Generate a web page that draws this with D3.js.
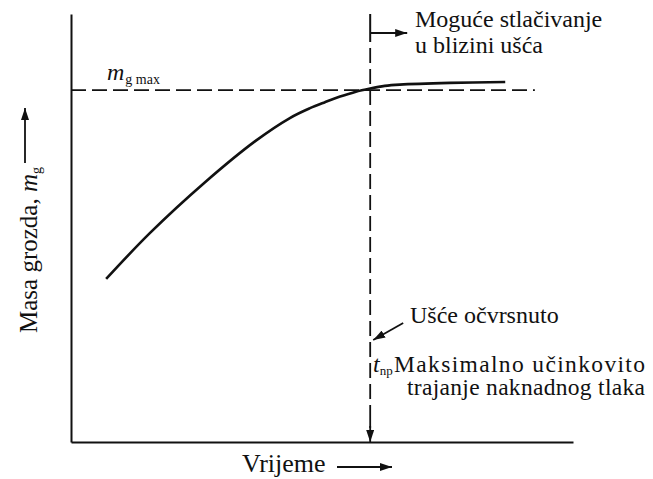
<!DOCTYPE html>
<html><head><meta charset="utf-8">
<script src="https://cdn.jsdelivr.net/npm/d3@7"></script>
<style>
html,body{margin:0;padding:0;background:#fff;}
</style></head>
<body>
<svg id="c" width="653" height="479"></svg>
<script>
// Data (arbitrary units: time 0..100, mass 0..100)
const timeVals = [7.0, 15.7, 26.7, 36.7, 43.6, 47.6, 50.6, 53.6, 56.6, 59.6, 62.5, 65.5, 75.5, 86.5];
const massVals = [38.1, 48.8, 60.7, 70.3, 75.7, 78.0, 79.4, 80.7, 81.8, 82.6, 83.2, 83.5, 83.9, 84.1];
const mgMax = 82.2;
const mgMaxEnd = 92.4;
const tNp = 59.6;
const labels = {
  y: "Masa grozda, ",
  x: "Vrijeme",
  top1: "Moguće stlačivanje",
  top2: "u blizini ušća",
  mid: "Ušće očvrsnuto",
  low1: "Maksimalno učinkovito",
  low2: "trajanje naknadnog tlaka"
};
const FONT = "'Liberation Serif', 'Times New Roman', Times, 'DejaVu Serif', serif";

const svg = d3.select("#c");
const x = d3.scaleLinear().domain([0,100]).range([71,573]);
const y = d3.scaleLinear().domain([0,100]).range([442,14]);

const defs = svg.append("defs");
defs.append("marker").attr("id","ah").attr("viewBox","0 0 12 8")
  .attr("refX",12).attr("refY",4).attr("markerWidth",12).attr("markerHeight",8)
  .attr("markerUnits","userSpaceOnUse").attr("orient","auto")
  .append("path").attr("d","M0,0 L12,4 L0,8 Z").attr("fill","#111");

// axes (domain lines only)
svg.append("g").attr("transform","translate(71,0)")
  .call(d3.axisLeft(y).tickValues([]).tickSizeOuter(0))
  .select(".domain").attr("stroke","#111").attr("stroke-width",2);
svg.append("g").attr("transform","translate(0,442)")
  .call(d3.axisBottom(x).tickValues([]).tickSizeOuter(0))
  .select(".domain").attr("stroke","#111").attr("stroke-width",2);

// horizontal dashed m_g max
svg.append("line").attr("x1",x(0)).attr("x2",x(mgMaxEnd))
  .attr("y1",y(mgMax)).attr("y2",y(mgMax))
  .attr("stroke","#111").attr("stroke-width",1.8).attr("stroke-dasharray","15,6");

// vertical line at t_np
svg.append("line").attr("x1",x(tNp)).attr("x2",x(tNp)).attr("y1",y(100)).attr("y2",y(100)+28)
  .attr("stroke","#111").attr("stroke-width",2);
svg.append("line").attr("x1",x(tNp)).attr("x2",x(tNp)).attr("y1",y(100)+34).attr("y2",y(0)-14)
  .attr("stroke","#111").attr("stroke-width",1.8).attr("stroke-dasharray","15,6");
svg.append("line").attr("x1",x(tNp)).attr("x2",x(tNp)).attr("y1",y(0)-22).attr("y2",y(0))
  .attr("stroke","#111").attr("stroke-width",1.8).attr("marker-end","url(#ah)");

// top arrow
svg.append("line").attr("x1",x(tNp)).attr("x2",x(tNp)+37).attr("y1",33).attr("y2",33)
  .attr("stroke","#111").attr("stroke-width",1.8).attr("marker-end","url(#ah)");
// Ušće arrow
svg.append("line").attr("x1",x(tNp)+33).attr("y1",323).attr("x2",x(tNp)+3).attr("y2",340)
  .attr("stroke","#111").attr("stroke-width",1.8).attr("marker-end","url(#ah)");

// curve
const pts = timeVals.map((t,i)=>[t,massVals[i]]);
svg.append("path").datum(pts)
  .attr("d", d3.line().x(d=>x(d[0])).y(d=>y(d[1])).curve(d3.curveCatmullRom.alpha(0.5)))
  .attr("fill","none").attr("stroke","#111").attr("stroke-width",2.6);

// texts
function txt(s,xx,yy,size){
  return svg.append("text").attr("x",xx).attr("y",yy).attr("font-size",size||24)
    .attr("font-family",FONT).attr("fill","#111").text(s);
}
txt(labels.top1,415,27);
txt(labels.top2,415,53);
txt(labels.mid,410,323);
txt(labels.low1,394,372,23.5).attr("textLength",251).attr("lengthAdjust","spacing");
txt(labels.low2,407,395,23.5).attr("textLength",238).attr("lengthAdjust","spacing");
txt(labels.x,242,472,26);

// t_np
const tn = svg.append("text").attr("x",373).attr("y",372).attr("font-size",24)
  .attr("font-family",FONT).attr("fill","#111");
tn.append("tspan").attr("font-style","italic").text("t");
tn.append("tspan").attr("font-size",13).attr("dy",3).text("np");

// m_g max
const mm = svg.append("text").attr("x",107).attr("y",80).attr("font-size",24)
  .attr("font-family",FONT).attr("fill","#111");
mm.append("tspan").attr("font-style","italic").text("m");
mm.append("tspan").attr("font-size",14).attr("dy",4).attr("dx",1).text("g max");

// x arrow
svg.append("line").attr("x1",337).attr("x2",392).attr("y1",467).attr("y2",467)
  .attr("stroke","#111").attr("stroke-width",1.8).attr("marker-end","url(#ah)");

// y label
const yl = svg.append("text").attr("transform","translate(37,333) rotate(-90)").attr("font-size",25)
  .attr("font-family",FONT).attr("fill","#111");
yl.append("tspan").text(labels.y);
yl.append("tspan").attr("font-style","italic").text("m");
yl.append("tspan").attr("font-size",14).attr("dy",4).text("g");
// y arrow
svg.append("line").attr("x1",25).attr("x2",25).attr("y1",163).attr("y2",108)
  .attr("stroke","#111").attr("stroke-width",1.8).attr("marker-end","url(#ah)");
</script>
</body></html>
